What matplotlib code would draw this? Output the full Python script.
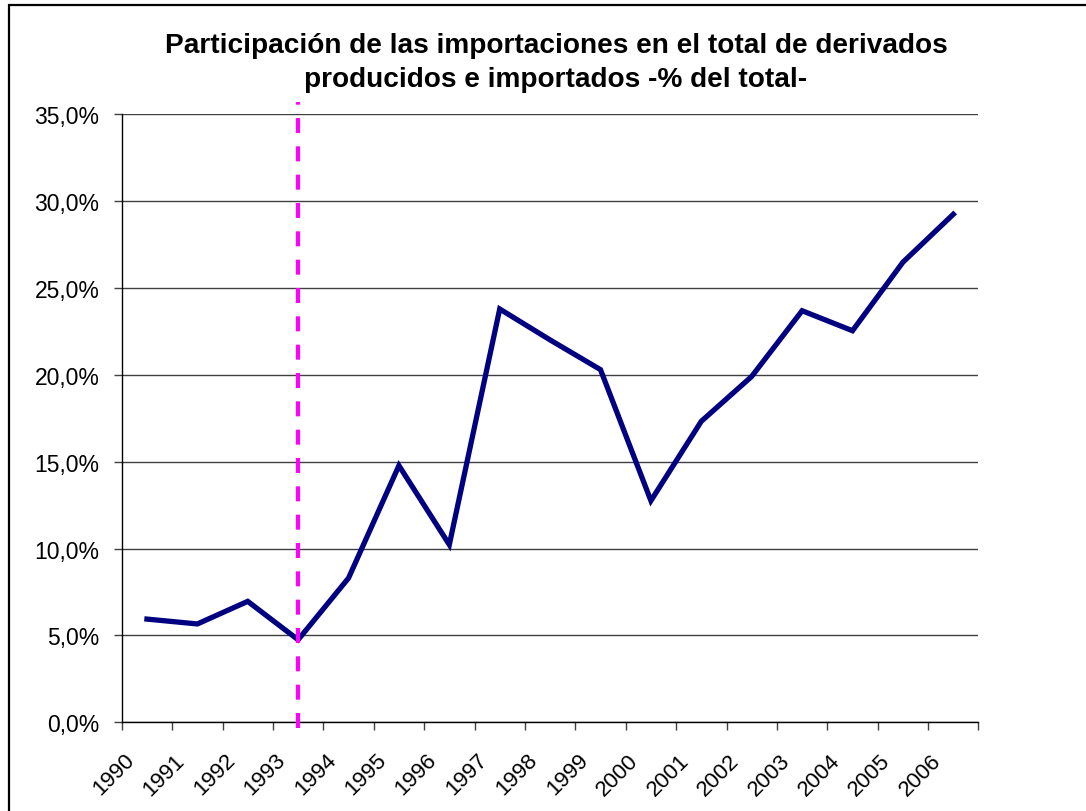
import matplotlib
matplotlib.use("Agg")
import matplotlib.pyplot as plt
from matplotlib.patches import Rectangle
from matplotlib.transforms import ScaledTranslation

# datos
years = [1990, 1991, 1992, 1993, 1994, 1995, 1996, 1997, 1998,
         1999, 2000, 2001, 2002, 2003, 2004, 2005, 2006]
share = [5.94, 5.66, 6.96, 4.75, 8.30, 14.77, 10.22, 23.78, 22.0,
         20.29, 12.75, 17.32, 19.90, 23.68, 22.53, 26.47, 29.23]
y_ticks = [0, 5, 10, 15, 20, 25, 30, 35]
y_labels = ["0,0%", "5,0%", "10,0%", "15,0%", "20,0%", "25,0%", "30,0%", "35,0%"]
mark_year = 1993

plt.rcParams['font.family'] = ['Liberation Sans', 'DejaVu Sans']

fig = plt.figure(figsize=(10.86, 8.12), dpi=100)
ax = fig.add_axes([0.1121, 0.1092, 0.7889, 0.7492])

x = [i + 0.5 for i in range(len(years))]
ax.plot(x, share, color='#000080', linewidth=3.8, solid_joinstyle='miter', zorder=3)

# linea vertical punteada en 1993
xm = years.index(mark_year) + 0.5
ax.plot([xm, xm], [-0.3, 35.7], color='#ff00ff', linewidth=3, linestyle=(0, (3.6, 3.2)),
        clip_on=False, zorder=4)

ax.set_xlim(0, len(years))
ax.set_ylim(0, 35)
ax.set_yticks(y_ticks)
ax.set_yticklabels(y_labels, fontsize=16.5)
ax.yaxis.grid(True, color='#404040', linewidth=1)
ax.set_axisbelow(True)

ax.set_xticks(range(len(years) + 1))
ax.set_xticklabels([])
ax.set_xticks(x, minor=True)
ax.set_xticklabels([str(y) for y in years], minor=True, rotation=45, ha='right',
                   va='top', rotation_mode='anchor', fontsize=16)
ax.tick_params(axis='x', which='minor', length=0, pad=10)
ax.tick_params(axis='x', which='major', length=6, width=1, color='#404040')
ax.tick_params(axis='y', length=6, width=1, pad=10, color='#404040')

off = ScaledTranslation(-23 / 100, -13 / 100, fig.dpi_scale_trans)
for lab in ax.get_xticklabels(minor=True):
    lab.set_transform(lab.get_transform() + off)

for s in ['top', 'right']:
    ax.spines[s].set_visible(False)
for s in ['left', 'bottom']:
    ax.spines[s].set_color('black')
    ax.spines[s].set_linewidth(1)

fig.text(0.512, 1 - 46 / 812, "Participación de las importaciones en el total de derivados",
         ha='center', va='center', fontsize=20.2, fontweight='bold')
fig.text(0.512, 1 - 80 / 812, "producidos e importados -% del total-",
         ha='center', va='center', fontsize=20.2, fontweight='bold')

fig.add_artist(Rectangle((9 / 1086, -0.1), 1.2, 1.1 - 6 / 812, transform=fig.transFigure,
                         fill=False, edgecolor='black', linewidth=1.6, clip_on=False))

fig.savefig('out.png', dpi=100)
